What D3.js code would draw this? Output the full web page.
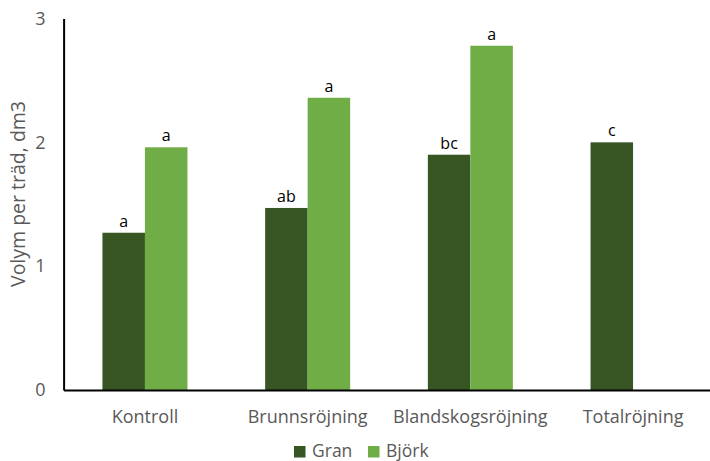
<!DOCTYPE html>
<html><head><meta charset="utf-8">
<script src="https://cdn.jsdelivr.net/npm/d3@7"></script>
<style>body{margin:0;background:#fff;} svg{display:block;font-family:"Open Sans","Lato",sans-serif;}</style>
</head><body><svg id="c" width="710" height="461"></svg>
<script>
const categories = ["Kontroll","Brunnsröjning","Blandskogsröjning","Totalröjning"];
const series = ["Gran","Björk"];
const granValues = [1.27, 1.47, 1.90, 2.00];
const bjorkValues = [1.96, 2.36, 2.78, null];
const granLetters = ["a","ab","bc","c"];
const bjorkLetters = ["a","a","a",null];
const yTicks = [0,1,2,3];
const colors = ["#375623","#70AD47"];

const svg = d3.select("#c");
const x = d3.scaleBand().domain(categories).range([63.6, 714.4]).paddingInner(0).paddingOuter(0);
const xs = d3.scaleBand().domain(series).range([0, 85]);
const y = d3.scaleLinear().domain([0,3]).range([390, 18.5]);

const data = [];
categories.forEach((c,i)=>{
  [granValues[i], bjorkValues[i]].forEach((v,j)=>{
    if (v!=null) data.push({c, s:series[j], v, l:[granLetters,bjorkLetters][j][i], col:colors[j]});
  });
});

const g = svg.append("g");
g.selectAll("rect.bar").data(data).enter().append("rect")
  .attr("x", d=> x(d.c) + x.bandwidth()/2 - 42.5 + xs(d.s))
  .attr("width", xs.bandwidth())
  .attr("y", d=> y(d.v))
  .attr("height", d=> y(0)-y(d.v))
  .attr("fill", d=> d.col);

g.selectAll("text.lbl").data(data).enter().append("text")
  .attr("x", d=> x(d.c) + x.bandwidth()/2 - 42.5 + xs(d.s) + xs.bandwidth()/2)
  .attr("y", d=> y(d.v)-6)
  .attr("text-anchor","middle")
  .attr("font-size",16).attr("fill","#000")
  .text(d=>d.l);

// y axis
const ya = svg.append("g").attr("transform","translate(63.6,0)")
  .call(d3.axisLeft(y).tickValues(yTicks).tickSize(0).tickPadding(18).tickFormat(d3.format("d")));
ya.select(".domain").attr("stroke","#000").attr("stroke-width",2);
ya.selectAll("text").attr("font-size",18).attr("fill","#595959").attr("font-family","Open Sans");

// x axis
const xa = svg.append("g").attr("transform","translate(0,390)")
  .call(d3.axisBottom(x).tickSize(0).tickPadding(20));
xa.select(".domain").attr("stroke","#000").attr("stroke-width",2);
xa.selectAll("text").attr("font-size",18).attr("fill","#595959").attr("font-family","Open Sans");

svg.append("text").attr("transform","translate(25,194) rotate(-90)")
  .attr("text-anchor","middle").attr("font-size",19.5).attr("fill","#595959")
  .text("Volym per träd, dm3");

// legend
const lx = [294, 368];
series.forEach((s,i)=>{
  svg.append("rect").attr("x",lx[i]).attr("y",446).attr("width",11.5).attr("height",11.5).attr("fill",colors[i]);
  svg.append("text").attr("x",lx[i]+18).attr("y",456.5).attr("font-size",17.5).attr("fill","#595959").text(s);
});
</script></body></html>
